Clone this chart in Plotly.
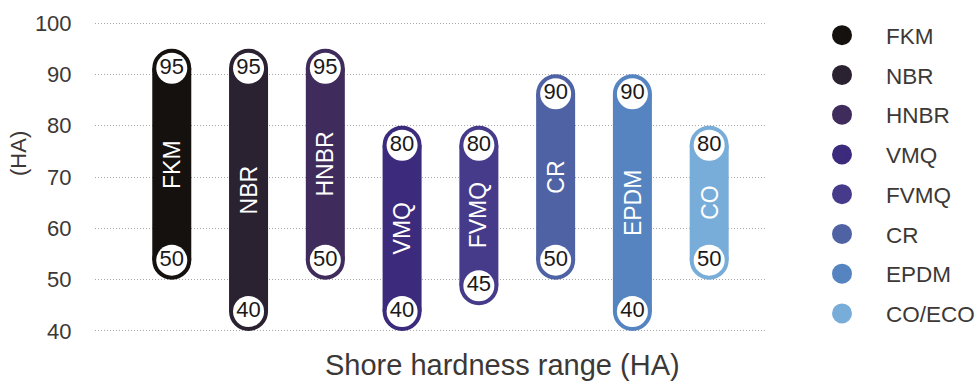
import plotly.graph_objects as go

# Shore hardness ranges (HA) per elastomer family
materials = ["FKM", "NBR", "HNBR", "VMQ", "FVMQ", "CR", "EPDM", "CO/ECO"]
pill_labels = ["FKM", "NBR", "HNBR", "VMQ", "FVMQ", "CR", "EPDM", "CO"]
hardness_min = [50, 40, 50, 40, 45, 50, 40, 50]
hardness_max = [95, 95, 95, 80, 80, 90, 90, 80]
colors = ["#15110e", "#2a2131", "#3f2c5c", "#3c2a7d",
          "#463b8a", "#4f62a4", "#5584c0", "#79add9"]
y_ticks = [40, 50, 60, 70, 80, 90, 100]

FONT = "Liberation Sans, Arial, Helvetica, sans-serif"
TEXT_COLOR = "#3c3836"

# Canvas / plot-area geometry
W, H = 979, 382
M_L, M_R, M_T, M_B = 95, 213, 21, 49
Y_RANGE = [39.6, 100.4]
X_RANGE = [-1.0, 7.74]
plot_h = H - M_T - M_B
plot_w = W - M_L - M_R
px_per_y = plot_h / (Y_RANGE[1] - Y_RANGE[0])
px_per_x = plot_w / (X_RANGE[1] - X_RANGE[0])


def paper_x(px):
    return (px - M_L) / plot_w


def paper_y(py):
    return (H - M_B - py) / plot_h


PILL_PX = 39       # pill width in pixels
CAP_LINE = 4       # outline that tops up the cap marker to the pill width
BADGE_PX = 31      # white value badge diameter
cap_r = (PILL_PX / 2) / px_per_y   # cap radius in data units
bar_w = PILL_PX / px_per_x         # bar width in x units

fig = go.Figure()
annotations = []

for i, (name, short, lo, hi, col) in enumerate(
        zip(materials, pill_labels, hardness_min, hardness_max, colors)):
    # straight body of the pill
    fig.add_trace(go.Bar(
        x=[i], y=[(hi - lo) - 2 * cap_r], base=[lo + cap_r],
        width=bar_w, marker=dict(color=col, line=dict(width=0)),
        showlegend=False, legendgroup=name, hoverinfo="skip"))
    # rounded end caps (also carries the legend entry)
    fig.add_trace(go.Scatter(
        x=[i, i], y=[lo + cap_r, hi - cap_r], mode="markers", name=name,
        legendgroup=name, showlegend=True, cliponaxis=False,
        marker=dict(size=PILL_PX - CAP_LINE, color=col,
                    line=dict(color=col, width=CAP_LINE)),
        hoverinfo="skip"))
    # white value badges at both ends
    fig.add_trace(go.Scatter(
        x=[i, i], y=[lo + cap_r, hi - cap_r], mode="markers+text",
        text=[str(lo), str(hi)], textposition="middle center",
        textfont=dict(family=FONT, size=22, color="#1b1918"),
        marker=dict(size=BADGE_PX, color="white", line=dict(width=0)),
        showlegend=False, legendgroup=name, cliponaxis=False,
        hoverinfo="skip"))
    # vertical material name inside the pill
    annotations.append(dict(
        x=i, y=(lo + hi) / 2, xref="x", yref="y", text=short,
        textangle=-90, showarrow=False,
        font=dict(family=FONT, size=23, color="white")))

# axis titles
annotations.append(dict(
    x=paper_x(18), y=paper_y(154), xref="paper", yref="paper",
    text="(HA)", textangle=-90, showarrow=False, xanchor="center", yanchor="middle",
    font=dict(family=FONT, size=22, color=TEXT_COLOR)))
annotations.append(dict(
    x=paper_x(502), y=paper_y(365), xref="paper", yref="paper",
    text="Shore hardness range (HA)", showarrow=False,
    xanchor="center", yanchor="middle",
    font=dict(family=FONT, size=29, color=TEXT_COLOR)))

fig.update_layout(
    width=W, height=H,
    margin=dict(l=M_L, r=M_R, t=M_T, b=M_B, pad=0, autoexpand=False),
    paper_bgcolor="white", plot_bgcolor="white",
    barmode="overlay",
    font=dict(family=FONT, color=TEXT_COLOR),
    annotations=annotations,
    showlegend=True,
    legend=dict(
        xref="container", yref="container",
        x=798 / W, y=1 - 14 / H, xanchor="left", yanchor="top",
        maxheight=368,
        itemwidth=78, tracegroupgap=7.5, traceorder="grouped",
        font=dict(family=FONT, size=22.5, color=TEXT_COLOR),
        bgcolor="rgba(0,0,0,0)", borderwidth=0),
    xaxis=dict(range=X_RANGE, showgrid=False, zeroline=False,
               showticklabels=False, ticks="", showline=False, fixedrange=True),
    yaxis=dict(range=Y_RANGE, tickvals=y_ticks, showgrid=True,
               gridcolor="#a8a8a8", gridwidth=1, griddash="1px,2px",
               zeroline=False, showline=False,
               ticks="outside", ticklen=18, tickcolor="rgba(0,0,0,0)",
               tickfont=dict(family=FONT, size=22, color=TEXT_COLOR),
               fixedrange=True),
    hovermode=False,
)

fig.write_html("out.html", config={"displayModeBar": False})
